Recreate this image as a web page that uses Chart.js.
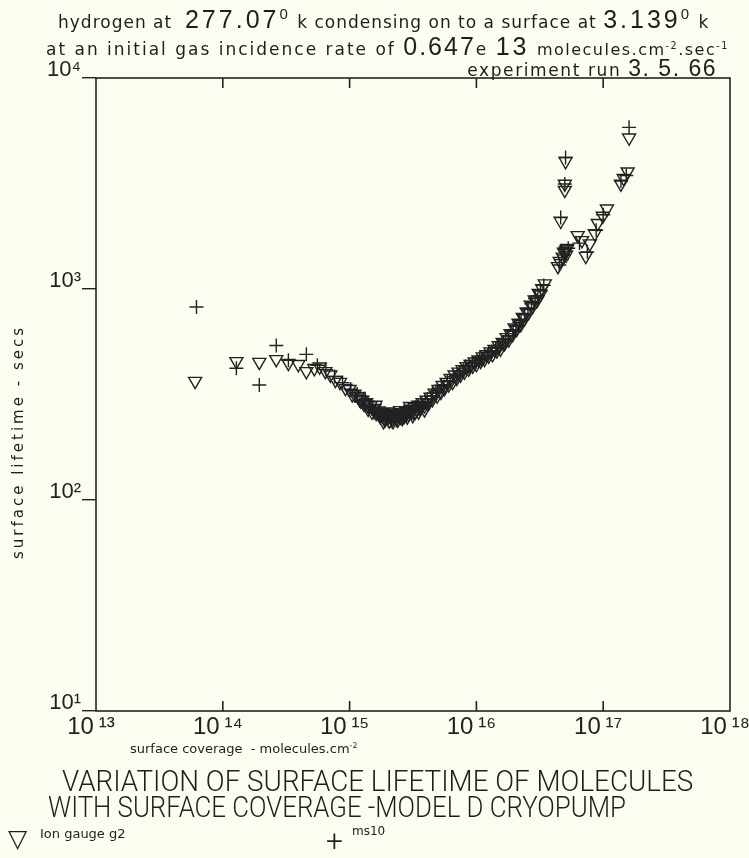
<!DOCTYPE html>
<html>
<head>
<meta charset="utf-8">
<script src="https://cdn.jsdelivr.net/npm/chart.js@4.4.1/dist/chart.umd.min.js"></script>
<style>
html,body{margin:0;padding:0;background:#fdfcf1;}
#page{position:relative;width:749px;height:858px;overflow:hidden;color:#1e1e1e;font-family:"DejaVu Sans",sans-serif;}
#chart{position:absolute;left:0;top:0;}
.t{position:absolute;white-space:nowrap;}
.hd{font-size:17px;letter-spacing:1px;}
.big{font-family:"Liberation Sans",sans-serif;font-size:25px;letter-spacing:3px;}
.sm{font-size:16px;letter-spacing:1.5px;}
.cap{font-family:Roboto,"Liberation Sans",sans-serif;font-weight:300;font-size:30px;transform-origin:0 0;}
sup{font-size:60%;line-height:0;}
</style>
</head>
<body>
<div id="page">
<canvas id="chart" width="749" height="858"></canvas>

<div class="t hd" style="left:58px;top:5px">hydrogen at &nbsp;<span class="big">277.07<sup>0</sup></span> k condensing on to a surface at <span class="big">3.139<sup>0</sup></span> k</div>
<div class="t hd" style="left:46px;top:32px;letter-spacing:2px">at an initial gas incidence rate of <span class="big" style="letter-spacing:2px">0.647</span>e <span class="big">13</span> <span class="sm">molecules.cm<sup>-2</sup>.sec<sup>-1</sup></span></div>
<div class="t hd" style="right:32px;top:55px;letter-spacing:1.6px">experiment run <span class="big" style="font-size:23px;letter-spacing:1.5px">3. 5. 66</span></div>

<div class="t" style="left:18px;top:442px;font-size:15px;letter-spacing:3px;transform:translate(-50%,-50%) rotate(-90deg)">surface lifetime - secs</div>
<div class="t" style="left:130px;top:741px;font-size:13px">surface coverage &nbsp;- molecules.cm<sup>-2</sup></div>

<div class="t cap" style="left:62px;top:763px;transform:scaleX(0.927)">VARIATION OF SURFACE LIFETIME OF MOLECULES</div>
<div class="t cap" style="left:48px;top:789px;transform:scaleX(0.86)">WITH SURFACE COVERAGE -MODEL D CRYOPUMP</div>
<div class="t" style="left:8px;top:824px;font-size:25px">▽</div>
<div class="t" style="left:40px;top:826px;font-size:13px">Ion gauge g2</div>
<div class="t" style="left:326px;top:828px;font-family:Roboto,sans-serif;font-weight:300;font-size:30px;line-height:26px">+</div>
<div class="t" style="left:352px;top:824px;font-size:12px">ms10</div>
</div>

<script>
// ── DATA ─────────────────────────────────────────────────
const xExps = [13, 14, 15, 16, 17, 18];
const xTickLabels = ['10\u2009¹³', '10\u2009¹⁴', '10\u2009¹⁵', '10\u2009¹⁶', '10\u2009¹⁷', '10\u2009¹⁸'];
const yExps = [1, 2, 3, 4];
const yTickLabels = ['10¹', '10²', '10³', '10⁴'];

// ion gauge g2 (triangles)
const gaugeX = [6.05e13,1.28e14,1.94e14,2.64e14,3.29e14,3.94e14,4.56e14,5.27e14,5.8e14,6.44e14,
  7.05e14,7.73e14,8.4e14,9.27e14,1.00e15,1.05e15,1.09e15,1.17e15,1.22e15,1.26e15,
  1.35e15,1.40e15,1.46e15,1.57e15,1.62e15,1.69e15,1.75e15,1.82e15,1.88e15,1.95e15,
  2.00e15,2.10e15,2.18e15,2.26e15,2.35e15,2.43e15,2.52e15,2.61e15,2.70e15,2.80e15,
  2.92e15,3.02e15,3.10e15,3.25e15,3.40e15,3.49e15,3.60e15,3.76e15,3.90e15,4.04e15,
  4.20e15,4.35e15,4.50e15,4.68e15,4.90e15,5.03e15,5.25e15,5.41e15,5.60e15,5.82e15,
  6.05e15,6.25e15,6.50e15,6.73e15,7.00e15,7.23e15,7.50e15,7.78e15,8.05e15,8.37e15,
  8.70e15,9.00e15,9.35e15,9.68e15,1.00e16,1.04e16,1.08e16,1.12e16,1.16e16,1.20e16,
  1.25e16,1.29e16,1.34e16,1.39e16,1.45e16,1.50e16,1.55e16,1.61e16,1.67e16,1.73e16,
  1.80e16,1.86e16,1.93e16,2.00e16,2.08e16,2.15e16,2.24e16,2.32e16,2.40e16,2.49e16,
  2.58e16,2.68e16,2.78e16,2.88e16,3.00e16,3.10e16,3.20e16,3.30e16,3.46e16,
  1.30e15,1.50e15,1.60e15,1.70e15,1.90e15,2.00e15,2.05e15,2.20e15,2.40e15,2.50e15,
  2.60e15,2.85e15,3.00e15,3.15e15,3.50e15,3.90e15,
  1.20e15,1.38e15,1.55e15,1.78e15,1.85e15,2.15e15,2.30e15,2.65e15,2.95e15,3.30e15,
  3.70e15,4.10e15,
  4.40e16,4.54e16,4.80e16,4.90e16,5.00e16,5.07e16,5.10e16,5.15e16,5.20e16,4.62e16,
  4.98e16,4.98e16,5.05e16,6.29e16,6.80e16,7.29e16,7.84e16,8.59e16,9.06e16,9.93e16,
  1.07e17,1.38e17,1.45e17,1.56e17,1.60e17];
const gaugeY = [366,454,450,464,445,440,407,421,428,407,
  392,370,362,339,335,316,318,310,296,298,
  290,270,280,272,258,265,250,260,246,255,
  245,250,242,252,243,256,248,260,250,263,
  256,270,262,276,268,282,272,290,280,298,
  288,308,300,322,312,335,325,350,338,362,
  352,378,362,392,378,405,392,416,405,430,
  418,440,432,452,440,462,455,478,465,490,
  482,505,490,518,510,540,520,560,552,590,
  575,615,610,655,645,690,680,735,725,780,
  775,840,830,890,880,955,945,1005,1060,
  285,262,282,255,240,262,238,236,240,266,
  244,248,278,252,262,268,
  300,282,268,258,236,258,246,255,266,262,
  280,290,
  1280,1355,1420,1500,1480,1514,1450,1540,1560,2100,
  2939,3146,4030,1795,1700,1432,1640,1832,2051,2219,
  2399,3146,3350,3597,5210];

// ms10 (crosses)
const msX = [6.2e13,1.28e14,1.94e14,2.64e14,3.29e14,4.56e14,5.57e14,6.5e14,7.6e14,8.8e14,
  1.02e15,1.11e15,1.15e15,1.25e15,1.33e15,1.42e15,1.50e15,1.60e15,1.70e15,1.85e15,
  1.95e15,2.05e15,2.20e15,2.30e15,2.45e15,2.55e15,2.72e15,2.90e15,3.10e15,3.30e15,
  3.50e15,3.70e15,3.95e15,4.10e15,4.40e15,4.50e15,4.80e15,4.95e15,5.30e15,5.55e15,
  5.90e15,6.20e15,6.60e15,7.05e15,7.40e15,7.90e15,8.20e15,8.80e15,9.30e15,9.90e15,
  1.06e16,1.10e16,1.16e16,1.22e16,1.25e16,1.32e16,1.42e16,1.48e16,1.60e16,1.70e16,
  1.80e16,1.95e16,2.05e16,2.18e16,2.25e16,2.40e16,2.55e16,2.72e16,2.90e16,3.05e16,
  3.20e16,3.40e16,
  1.30e15,1.55e15,1.75e15,1.90e15,2.12e15,2.35e15,2.60e15,2.82e15,3.20e15,3.60e15,
  4.50e16,4.70e16,4.90e16,5.30e16,4.62e16,4.98e16,5.05e16,6.50e16,
  7.50e16,8.80e16,1.00e17,1.38e17,1.52e17,1.60e17];
const msY = [822,421,351,540,459,490,435,415,385,360,
  335,311,318,292,300,278,270,264,255,252,
  246,248,245,250,248,255,256,262,268,275,
  278,288,292,300,312,320,322,330,350,345,
  365,368,385,390,400,412,430,428,445,450,
  470,462,475,485,498,505,525,525,555,575,
  600,630,665,695,710,760,800,850,900,930,
  980,1040,
  285,260,245,240,236,238,244,250,258,270,
  1300,1380,1450,1560,2180,3146,4200,1650,
  1500,1900,2250,3250,3450,5835];

// ── CHART ────────────────────────────────────────────────
const INK = '#222';
const toPts = (xs, ys) => xs.map((x, i) => ({x, y: ys[i]}));

const frame = {
    id: 'frame',
    afterDraw(chart) {
        const {ctx, chartArea: a, scales: {x}} = chart;
        ctx.save();
        ctx.strokeStyle = INK;
        ctx.lineWidth = 1.6;
        ctx.strokeRect(a.left, a.top, a.right - a.left, a.bottom - a.top);
        ctx.beginPath();
        xExps.slice(1, -1).forEach(e => {
            const px = x.getPixelForValue(Math.pow(10, e));
            ctx.moveTo(px, a.bottom); ctx.lineTo(px, a.bottom - 10);
            ctx.moveTo(px, a.top); ctx.lineTo(px, a.top + 10);
        });
        ctx.stroke();
        ctx.restore();
    }
};

new Chart(document.getElementById('chart'), {
    type: 'scatter',
    data: {
        datasets: [
            {label: 'Ion gauge g2', data: toPts(gaugeX, gaugeY), pointStyle: 'triangle', rotation: 180,
             pointRadius: 7.5, borderColor: INK, backgroundColor: 'rgba(0,0,0,0)', borderWidth: 1.4},
            {label: 'ms10', data: toPts(msX, msY), pointStyle: 'cross',
             pointRadius: 7, borderColor: INK, borderWidth: 1.4}
        ]
    },
    options: {
        responsive: false,
        animation: false,
        devicePixelRatio: 1,
        layout: {padding: {top: 78, right: 19, left: 0, bottom: 0}},
        plugins: {legend: {display: false}, tooltip: {enabled: false}},
        scales: {
            x: {
                type: 'logarithmic', min: 1e13, max: 1e18,
                afterBuildTicks: s => { s.ticks = xExps.map(e => ({value: Math.pow(10, e)})); },
                afterFit: s => { s.height = 147; s.paddingLeft = 0; s.paddingRight = 0; },
                grid: {display: false, drawTicks: false},
                border: {display: false},
                ticks: {
                    autoSkip: false, maxRotation: 0, padding: 2, labelOffset: -5, color: INK,
                    font: {family: '"Liberation Sans",sans-serif', size: 24},
                    callback: (v, i) => xTickLabels[i]
                }
            },
            y: {
                type: 'logarithmic', min: 10, max: 1e4,
                afterBuildTicks: s => { s.ticks = yExps.map(e => ({value: Math.pow(10, e)})); },
                afterFit: s => { s.width = 96; s.paddingTop = 0; s.paddingBottom = 0; },
                grid: {drawOnChartArea: false, drawTicks: true, tickLength: 14, color: INK, lineWidth: 1.4},
                border: {display: false},
                ticks: {
                    autoSkip: false, padding: 1, labelOffset: -8, color: INK,
                    font: {family: '"Liberation Sans",sans-serif', size: 22},
                    callback: (v, i) => yTickLabels[i]
                }
            }
        }
    },
    plugins: [frame]
});
</script>
</body>
</html>
